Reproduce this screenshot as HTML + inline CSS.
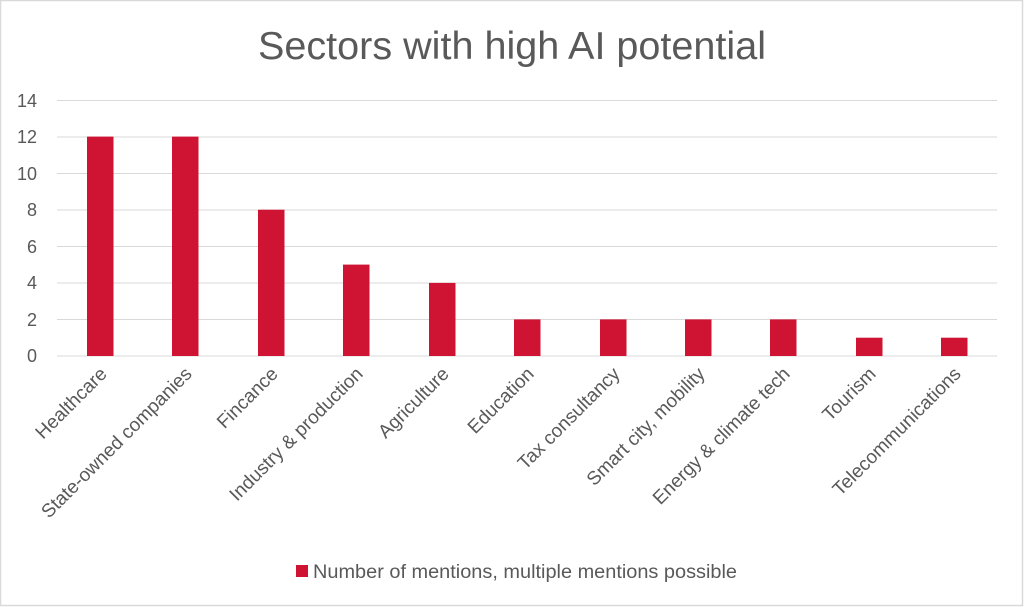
<!DOCTYPE html>
<html><head><meta charset="utf-8"><style>
html,body{margin:0;padding:0;background:#fff;}
svg{display:block;}
text{font-family:"Liberation Sans",sans-serif;fill:#595959;}
</style></head><body>
<svg width="1024" height="607" viewBox="0 0 1024 607" xmlns="http://www.w3.org/2000/svg">
<rect x="0.5" y="0.5" width="1022" height="605" fill="#fff" stroke="#d9d9d9" stroke-width="1.5"/>
<text x="258" y="59" font-size="39" textLength="508" lengthAdjust="spacingAndGlyphs">Sectors with high AI potential</text>
<g stroke="#d9d9d9" stroke-width="1">
<line x1="57" x2="997" y1="100.5" y2="100.5"/>
<line x1="57" x2="997" y1="137" y2="137"/>
<line x1="57" x2="997" y1="173.5" y2="173.5"/>
<line x1="57" x2="997" y1="210" y2="210"/>
<line x1="57" x2="997" y1="246.5" y2="246.5"/>
<line x1="57" x2="997" y1="283" y2="283"/>
<line x1="57" x2="997" y1="319.5" y2="319.5"/>
<line x1="57" x2="997" y1="356" y2="356"/>
</g>
<g font-size="18" text-anchor="end">
<text x="37" y="107">14</text>
<text x="37" y="143">12</text>
<text x="37" y="180">10</text>
<text x="37" y="216">8</text>
<text x="37" y="253">6</text>
<text x="37" y="289">4</text>
<text x="37" y="326">2</text>
<text x="37" y="362">0</text>
</g>
<g fill="#CE1432">
<rect x="87" y="136.6" width="26.5" height="219.4"/>
<rect x="172" y="136.6" width="26.5" height="219.4"/>
<rect x="258" y="209.7" width="26.5" height="146.3"/>
<rect x="343" y="264.6" width="26.5" height="91.4"/>
<rect x="429" y="282.9" width="26.5" height="73.1"/>
<rect x="514" y="319.4" width="26.5" height="36.6"/>
<rect x="600" y="319.4" width="26.5" height="36.6"/>
<rect x="685" y="319.4" width="26.5" height="36.6"/>
<rect x="770" y="319.4" width="26.5" height="36.6"/>
<rect x="856" y="337.7" width="26.5" height="18.3"/>
<rect x="941" y="337.7" width="26.5" height="18.3"/>
</g>
<g font-size="19" text-anchor="end">
<text transform="translate(108,375) rotate(-45)">Healthcare</text>
<text transform="translate(193,375) rotate(-45)">State-owned companies</text>
<text transform="translate(279,375) rotate(-45)">Fincance</text>
<text transform="translate(364,375) rotate(-45)">Industry &amp; production</text>
<text transform="translate(450,375) rotate(-45)">Agriculture</text>
<text transform="translate(535,375) rotate(-45)">Education</text>
<text transform="translate(621,375) rotate(-45)">Tax consultancy</text>
<text transform="translate(706,375) rotate(-45)">Smart city, mobility</text>
<text transform="translate(791,375) rotate(-45)">Energy &amp; climate tech</text>
<text transform="translate(877,375) rotate(-45)">Tourism</text>
<text transform="translate(962,375) rotate(-45)">Telecommunications</text>
</g>
<rect x="296" y="565" width="12" height="12" fill="#CE1432"/>
<text x="313" y="578" font-size="19" textLength="424" lengthAdjust="spacingAndGlyphs">Number of mentions, multiple mentions possible</text>
</svg>
</body></html>
